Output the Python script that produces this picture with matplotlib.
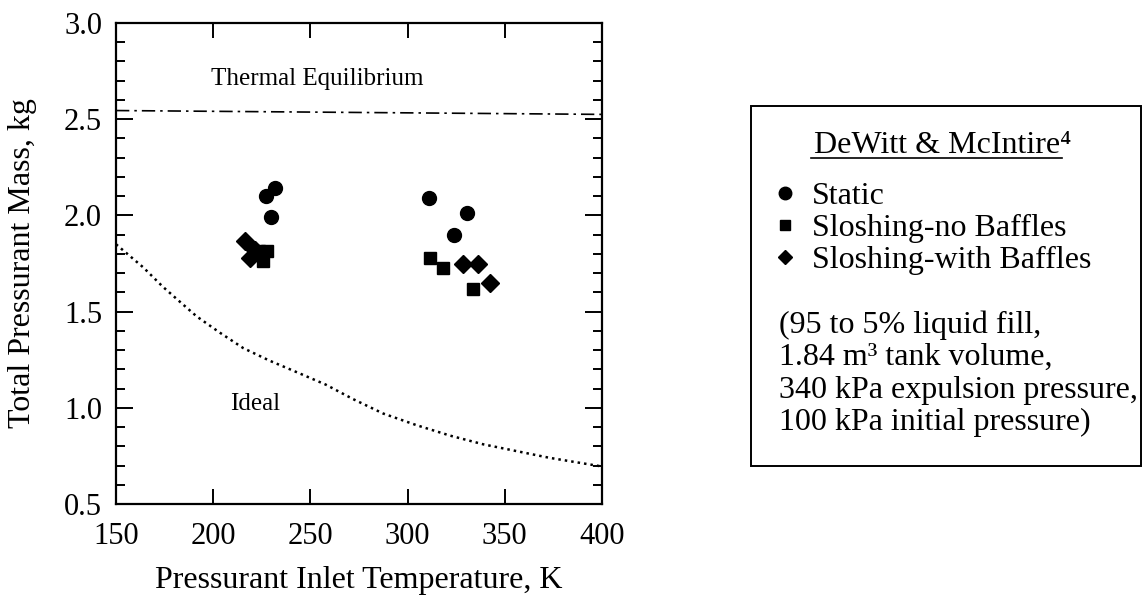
import matplotlib
matplotlib.use('Agg')
import matplotlib.pyplot as plt
from matplotlib.lines import Line2D
from matplotlib.patches import Rectangle

plt.rcParams['font.family'] = ['Liberation Serif', 'DejaVu Serif']

# Dane
static_T = [231.8, 227.0, 229.7, 311.0, 330.7, 324.0]
static_M = [2.14, 2.10, 1.99, 2.09, 2.01, 1.90]

no_baffle_T = [223.5, 227.5, 225.5, 311.5, 318.0, 333.5]
no_baffle_M = [1.815, 1.815, 1.765, 1.78, 1.725, 1.62]

baffle_T = [216.5, 219.0, 221.5, 328.3, 336.4, 342.4]
baffle_M = [1.865, 1.78, 1.82, 1.75, 1.745, 1.65]

ideal_T = [150, 164, 174, 183, 191.5, 203.5, 215.5, 229, 243, 258, 272,
           287.5, 304.5, 322, 339, 356, 373, 400]
ideal_M = [1.85, 1.73, 1.63, 1.55, 1.475, 1.39, 1.31, 1.245, 1.185, 1.12,
           1.045, 0.97, 0.91, 0.855, 0.81, 0.775, 0.74, 0.695]

equil_T = [150, 400]
equil_M = [2.545, 2.525]

legend_title = 'DeWitt & McIntire\u2074'
legend_labels = ['Static', 'Sloshing-no Baffles', 'Sloshing-with Baffles']
note_lines = ['(95 to 5% liquid fill,',
              '1.84 m\u00b3 tank volume,',
              '340 kPa expulsion pressure,',
              '100 kPa initial pressure)']

W, H = 1143, 604
fig = plt.figure(figsize=(W / 100, H / 100), dpi=100)
ax = fig.add_axes([116 / W, 1 - 504 / H, 486 / W, 481 / H])

# Krzywe
ax.plot(equil_T, equil_M, color='black', lw=1.2, linestyle=(0, (8, 3, 1.5, 3)))
ax.plot(ideal_T, ideal_M, color='black', lw=1.8, linestyle=(0, (1, 1.6)))

# Punkty pomiarowe
ax.plot(static_T, static_M, 'o', color='black', ms=10, ls='none')
ax.plot(no_baffle_T, no_baffle_M, 's', color='black', ms=9, ls='none')
ax.plot(baffle_T, baffle_M, 'D', color='black', ms=9.5, ls='none')

ax.text(253.5, 2.71, 'Thermal Equilibrium', fontsize=18, ha='center', va='center')
ax.text(221.5, 1.02, 'Ideal', fontsize=18, ha='center', va='center')

ax.set_xlim(150, 400)
ax.set_ylim(0.5, 3.0)
ax.set_xticks([150, 200, 250, 300, 350, 400])
ax.set_yticks([0.5, 1.0, 1.5, 2.0, 2.5, 3.0])
ax.set_yticks([x / 10 for x in range(5, 31)], minor=True)
ax.set_yticklabels(['0.5', '1.0', '1.5', '2.0', '2.5', '3.0'])

ax.tick_params(which='both', direction='in', top=True, right=True, width=1.4,
               labelsize=22, colors='black')
ax.tick_params(axis='x', which='major', length=11, pad=13)
ax.tick_params(axis='y', which='major', length=12.5, pad=10)
ax.tick_params(axis='y', which='minor', length=6.5)
for s in ax.spines.values():
    s.set_linewidth(1.6)

ax.set_xlabel('Pressurant Inlet Temperature, K', fontsize=23)
ax.set_ylabel('Total Pressurant Mass, kg', fontsize=23)
ax.xaxis.set_label_coords(0.5, -0.128)
ax.yaxis.set_label_coords(-0.163, 0.5)

# Ramka legendy
fig.patches.append(Rectangle((751 / W, 1 - 466 / H), (1141 - 751) / W, (466 - 106) / H,
                             transform=fig.transFigure, fill=False, lw=1.4,
                             edgecolor='black'))
fig.text(943 / W, 1 - 145 / H, legend_title, fontsize=23, ha='center', va='center')
fig.add_artist(Line2D([811 / W, 1062 / W], [1 - 158 / H, 1 - 158 / H],
                      transform=fig.transFigure, color='black', lw=1.2))

handles = [Line2D([], [], marker='o', color='black', ls='none', ms=9),
           Line2D([], [], marker='s', color='black', ls='none', ms=7),
           Line2D([], [], marker='D', color='black', ls='none', ms=7)]
fig.legend(handles, legend_labels, loc='upper left',
           bbox_to_anchor=(775.5 / W, 1 - 182 / H), frameon=False, fontsize=23,
           handlelength=0.6, handletextpad=0.53, labelspacing=0.08,
           borderpad=0, borderaxespad=0)

for i, line in enumerate(note_lines):
    fig.text(779 / W, 1 - (325 + i * 32.6) / H, line, fontsize=23,
             ha='left', va='center')

fig.savefig('out.png', dpi=100)
